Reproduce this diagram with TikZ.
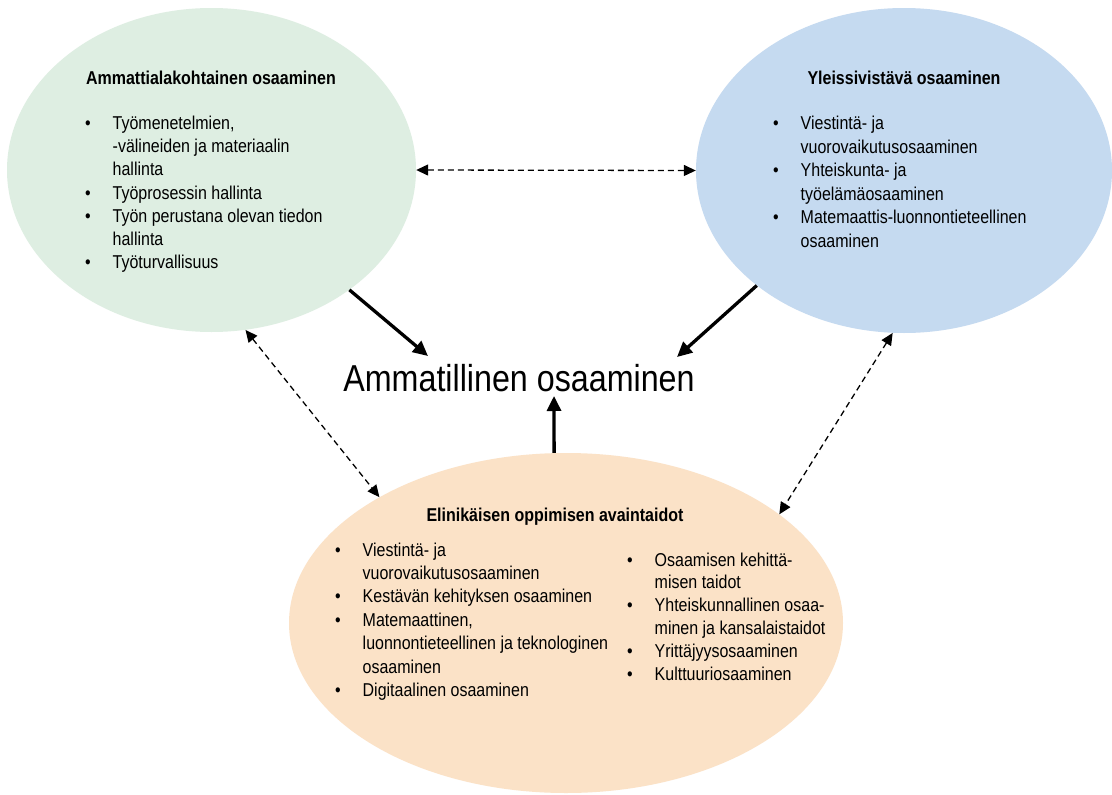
\documentclass[tikz,border=0pt]{standalone}
\usepackage{fontspec}
\setmainfont{Liberation Sans}[FakeStretch=0.86]
\usetikzlibrary{arrows.meta,shapes.geometric}
\definecolor{cgreen}{RGB}{222,238,226}
\definecolor{cblue}{RGB}{197,218,240}
\definecolor{corange}{RGB}{251,226,199}
\newcommand\bu{\makebox[27.5pt][l]{\textbullet}}
\newcommand\lst[1]{\begin{tabular}{@{}l@{}l@{}}#1\end{tabular}}
\begin{document}
\begin{tikzpicture}[x=1pt,y=-1pt,
  blob/.style={ellipse, draw=none, inner sep=0pt, fill=#1},
  ttl/.style={anchor=base, inner sep=0pt, font=\fontsize{18.6}{23.2}\selectfont\bfseries},
  lstbox/.style={anchor=north west, inner sep=0pt, font=\fontsize{18.6}{#1}\selectfont},
  mainarrow/.style={line width=3.3pt, -{Triangle[length=15pt,width=14pt]}},
  linkarrow/.style={line width=1.3pt, dash pattern=on 6pt off 4pt,
    {Triangle[length=12pt,width=11pt]}-{Triangle[length=12pt,width=11pt]}}]
\fill[white] (0,0) rectangle (1112,795);
\useasboundingbox (0,0) rectangle (1112,795);

\node[blob=cgreen, minimum width=409pt, minimum height=324pt] (green) at (211.5,170) {};
\node[blob=cblue, minimum width=416pt, minimum height=325pt] (blue) at (904,170.5) {};
\node[blob=corange, minimum width=554pt, minimum height=340pt] (orange) at (566,623) {};

\node[ttl] (gt) at (211,84) {Ammattialakohtainen osaaminen};
\node[lstbox=23.2] (gl) at (85,113.1) {\lst{%
\bu & Työmenetelmien,\\
 & -välineiden ja materiaalin\\
 & hallinta\\
\bu & Työprosessin hallinta\\
\bu & Työn perustana olevan tiedon\\
 & hallinta\\
\bu & Työturvallisuus}};

\node[ttl] (bt) at (904,84) {Yleissivistävä osaaminen};
\node[lstbox=23.6] (bl) at (773,112.8) {\lst{%
\bu & Viestintä- ja\\
 & vuorovaikutusosaaminen\\
\bu & Yhteiskunta- ja\\
 & työelämäosaaminen\\
\bu & Matemaattis-luonnontieteellinen\\
 & osaaminen}};

\node[ttl] (ot) at (555,521.7) {Elinikäisen oppimisen avaintaidot};
\node[lstbox=23.4] (ol) at (335,539.6) {\lst{%
\bu & Viestintä- ja\\
 & vuorovaikutusosaaminen\\
\bu & Kestävän kehityksen osaaminen\\
\bu & Matemaattinen,\\
 & luonnontieteellinen ja teknologinen\\
 & osaaminen\\
\bu & Digitaalinen osaaminen}};
\node[lstbox=22.8] (or) at (627,550) {\lst{%
\bu & Osaamisen kehittä-\\
 & misen taidot\\
\bu & Yhteiskunnallinen osaa-\\
 & minen ja kansalaistaidot\\
\bu & Yrittäjyysosaaminen\\
\bu & Kulttuuriosaaminen}};

\node[anchor=base, inner sep=0pt, font=\fontsize{37.5}{45}\selectfont] (title) at (519,391) {Ammatillinen osaaminen};

\coordinate (t1) at (428,356);
\coordinate (t2) at (677,357);
\coordinate (t3) at (554,396);

\draw[mainarrow] (green.-41) -- (t1);
\draw[mainarrow] (blue.-142) -- (t2);
\draw[mainarrow] (orange.94) -- (t3);

\draw[linkarrow] (green.east) -- (blue.west);
\draw[linkarrow] (green.-78) -- (orange.146);
\draw[linkarrow] (blue.-94) -- (orange.27.3);
\end{tikzpicture}
\end{document}
